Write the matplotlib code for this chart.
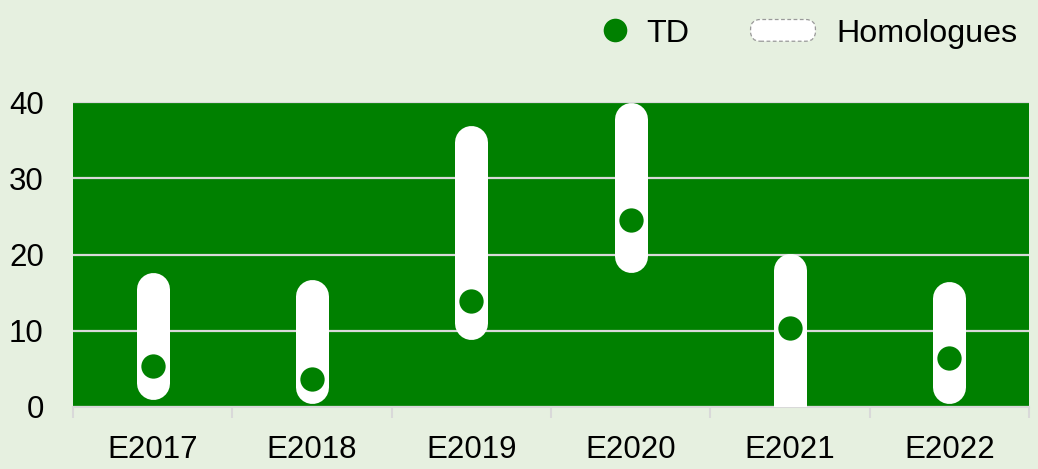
import matplotlib.pyplot as plt
import numpy as np
from matplotlib.patches import FancyBboxPatch
from matplotlib.lines import Line2D
from matplotlib.legend_handler import HandlerPatch, HandlerBase

categories = ['E2017', 'E2018', 'E2019', 'E2020', 'E2021', 'E2022']
td_values = [5.4, 3.7, 13.9, 24.5, 10.4, 6.4]
homol_low = [1.0, 0.4, 8.8, 17.7, -3.0, 0.4]
homol_high = [17.7, 16.7, 36.9, 39.9, 20.1, 16.4]

bg = '#e6f0e0'
green = '#008000'
grid_col = '#d9d9d9'

plt.rcParams['font.family'] = ['Liberation Sans', 'DejaVu Sans']

fig = plt.figure(figsize=(10.38, 4.69), dpi=100, facecolor=bg)
ax = fig.add_axes([0.0703, 0.1322, 0.9210, 0.6503])
ax.set_facecolor(green)

x = np.arange(len(categories))
ax.set_xlim(-0.5, len(categories) - 0.5)
ax.set_ylim(0, 40)

# bar width ~33 px, round caps
bar_px = 33
ax_h_px = 0.6503 * 469
r_data = (bar_px / 2) / (ax_h_px / 40)
lw_pt = bar_px * 72 / 100
for xi, lo, hi in zip(x, homol_low, homol_high):
    ax.plot([xi, xi], [lo + r_data, hi - r_data], color='white', lw=lw_pt,
            solid_capstyle='round', zorder=3)

ax.plot(x, td_values, 'o', color=green, markersize=17.5, markeredgewidth=0, zorder=4)

ax.set_yticks([0, 10, 20, 30, 40])
ax.grid(axis='y', color=grid_col, lw=1.6, zorder=1)
ax.set_axisbelow(True)
ax.set_xticks(x)
ax.set_xticklabels(categories)
ax.set_xticks(np.arange(-0.5, len(categories)), minor=True)
ax.tick_params(axis='x', which='major', length=0, pad=20, labelsize=22.5)
ax.tick_params(axis='x', which='minor', length=8, width=1.5, color=grid_col)
ax.tick_params(axis='y', length=0, pad=21, labelsize=22.5)
for s in ['top', 'left', 'right']:
    ax.spines[s].set_visible(False)
ax.spines['bottom'].set_color(grid_col)
ax.spines['bottom'].set_linewidth(1.5)


class RoundHandler(HandlerPatch):
    def create_artists(self, legend, orig_handle, xdescent, ydescent,
                       width, height, fontsize, trans):
        p = FancyBboxPatch((-xdescent + 1, -ydescent), width - 2, height,
                           boxstyle='round,pad=0,rounding_size=7',
                           facecolor='white', edgecolor='#999999',
                           linestyle=(0, (3, 2)), lw=0.9, transform=trans)
        return [p]


class RightDotHandler(HandlerBase):
    def create_artists(self, legend, orig_handle, xdescent, ydescent,
                       width, height, fontsize, trans):
        m = Line2D([-xdescent + width - 9], [-ydescent + height / 2],
                   marker='o', color=green, ls='none', markersize=17,
                   markeredgewidth=0, transform=trans)
        return [m]


td_handle = Line2D([], [], marker='o', color=green, ls='none')
homol_handle = FancyBboxPatch((0, 0), 1, 1, boxstyle='round')
fig.legend([td_handle, homol_handle], ['TD', 'Homologues'],
           handler_map={FancyBboxPatch: RoundHandler(), Line2D: RightDotHandler()},
           loc='upper right', bbox_to_anchor=(1.008, 1.022), ncol=2,
           frameon=False, fontsize=23.2, handlelength=2.1, handletextpad=0.6,
           columnspacing=1.85, handleheight=0.66)

fig.savefig('out.png', dpi=100, facecolor=bg)
